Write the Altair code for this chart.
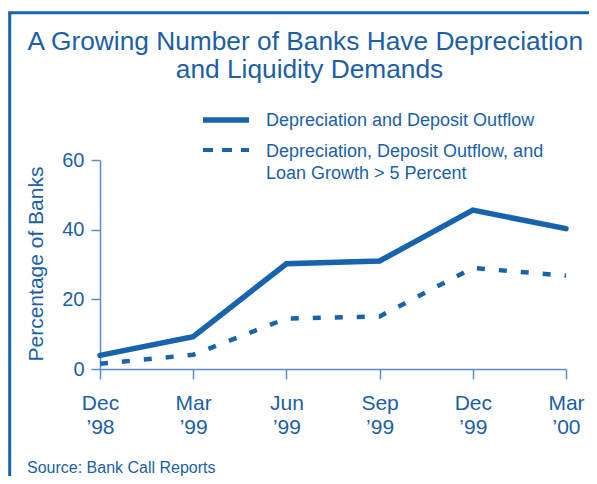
import altair as alt
import pandas as pd

# ---- data ----
periods = ["Dec|’98", "Mar|’99", "Jun|’99", "Sep|’99", "Dec|’99", "Mar|’00"]
solid_values = [3.9, 9.3, 30.2, 31.0, 45.6, 40.3]
dashed_values = [1.5, 4.1, 14.5, 15.1, 29.0, 26.8]
series_names = [
    "Depreciation and Deposit Outflow",
    "Depreciation, Deposit Outflow, and|Loan Growth > 5 Percent",
]
y_ticks = [0, 20, 40, 60]
title_lines = ["A Growing Number of Banks Have Depreciation", "and Liquidity Demands"]
y_title = "Percentage of Banks"
source_note = "Source: Bank Call Reports"

FONT = "Liberation Sans"
TEXT = "#1b5fa7"
LINE = "#1763ad"
AXIS = "#5a8dc8"

df = pd.DataFrame({
    "period": periods * 2,
    "value": solid_values + dashed_values,
    "series": [series_names[0]] * len(periods) + [series_names[1]] * len(periods),
})

x_enc = alt.X(
    "period:O", sort=periods, scale=alt.Scale(padding=0),
    axis=alt.Axis(title=None, labelExpr="split(datum.label, '|')", labelAngle=0,
                  labelFontSize=21, labelColor=TEXT, labelFont=FONT, labelPadding=13,
                  labelLineHeight=24, labelBaseline="top", tickSize=10, tickColor=AXIS,
                  domainColor=AXIS, tickWidth=1.5, domainWidth=1.5),
)
y_enc = alt.Y(
    "value:Q", scale=alt.Scale(domain=[0, 60]),
    axis=alt.Axis(values=y_ticks, title=None, grid=False, tickSize=9, labelPadding=7,
                  labelFontSize=20, labelColor=TEXT, labelFont=FONT, tickColor=AXIS,
                  domainColor=AXIS, tickWidth=1.5, domainWidth=1.5),
)

base = alt.Chart(df).encode(x=x_enc, y=y_enc)
solid = base.transform_filter(alt.datum.series == series_names[0]).mark_line(
    color=LINE, strokeWidth=5.5, strokeCap="round")
dashed = base.transform_filter(alt.datum.series == series_names[1]).mark_line(
    color=LINE, strokeWidth=4.5, strokeDash=[8, 14])

one = pd.DataFrame({"k": [0]})

def txt(text, xv, yv, size, align="left", angle=0, lh=None):
    kw = dict(font=FONT, fontSize=size, color=TEXT, align=align, baseline="alphabetic")
    if angle:
        kw["angle"] = angle
    if lh:
        kw["lineHeight"] = lh
    return alt.Chart(one).mark_text(**kw).encode(
        x=alt.value(xv), y=alt.value(yv), text=alt.value(text))

title1 = txt(title_lines[0], 205.3, -110, 26.3, align="center")
title2 = txt(title_lines[1], 209.5, -81.7, 26.3, align="center")
leg1 = txt(series_names[0], 166, -34, 18)
leg2 = txt(series_names[1].split("|"), 166, -2.7, 18, lh=21.7)
ytitle = txt(y_title, -57, 104, 21, align="center", angle=270)
source = txt(source_note, -73, 312.5, 16)

leg_solid = alt.Chart(one).mark_rule(color=LINE, strokeWidth=5.5).encode(
    x=alt.value(103), x2=alt.value(149), y=alt.value(-40))
leg_dash = alt.Chart(one).mark_rule(color=LINE, strokeWidth=4, strokeDash=[10, 9]).encode(
    x=alt.value(103), x2=alt.value(149), y=alt.value(-10))

frame_left = alt.Chart(one).mark_rule(color=LINE, strokeWidth=3).encode(
    x=alt.value(-90.3), y=alt.value(-147.2), y2=alt.value(330))
frame_top = alt.Chart(one).mark_rule(color=LINE, strokeWidth=3).encode(
    x=alt.value(-91.8), x2=alt.value(500), y=alt.value(-147.2))

chart = alt.layer(
    frame_left, frame_top, solid, dashed, title1, title2, leg_solid, leg_dash,
    leg1, leg2, ytitle, source
).properties(
    width=466, height=209, autosize="none",
    padding={"left": 92, "top": 152, "right": 23, "bottom": 107},
).configure_view(stroke=None)

chart.save("out.html", embed_options={"renderer": "svg", "actions": False})
